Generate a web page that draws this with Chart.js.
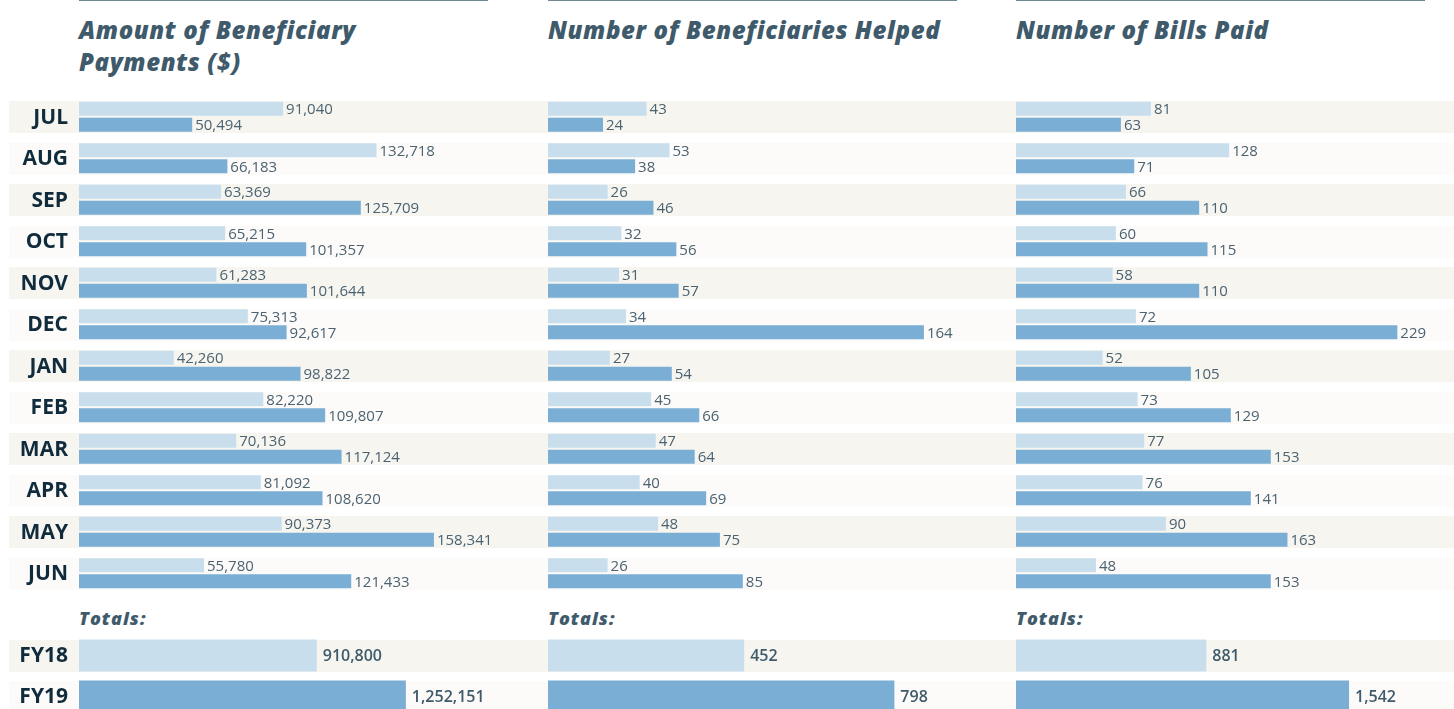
<!DOCTYPE html>
<html>
<head>
<meta charset="utf-8">
<script src="https://cdn.jsdelivr.net/npm/chart.js@4.4.1/dist/chart.umd.min.js"></script>
<style>
  html, body { margin: 0; padding: 0; background: #fff; }
  #page { position: relative; width: 1454px; height: 709px; overflow: hidden; font-family: "Open Sans", sans-serif; }
  .band { position: absolute; left: 9px; right: 0; height: 32px; }
  .rule { position: absolute; top: 0; height: 1px; background: #6e8894; }
  .title { position: absolute; top: 14px; font: italic 800 24px/32px "Open Sans", sans-serif; color: #3f5b6b; letter-spacing: 0.6px; white-space: nowrap; }
  .totals { position: absolute; top: 606px; font: italic 800 18px/24px "Open Sans", sans-serif; color: #3f5b6b; letter-spacing: 1px; }
  canvas { position: absolute; }
</style>
</head>
<body>
<div id="page"></div>
<script>
const months = ['JUL', 'AUG', 'SEP', 'OCT', 'NOV', 'DEC', 'JAN', 'FEB', 'MAR', 'APR', 'MAY', 'JUN'];
const totalLabels = ['FY18', 'FY19'];

const paymentsFY18 = [91040, 132718, 63369, 65215, 61283, 75313, 42260, 82220, 70136, 81092, 90373, 55780];
const paymentsFY19 = [50494, 66183, 125709, 101357, 101644, 92617, 98822, 109807, 117124, 108620, 158341, 121433];
const paymentsTotals = [910800, 1252151];

const helpedFY18 = [43, 53, 26, 32, 31, 34, 27, 45, 47, 40, 48, 26];
const helpedFY19 = [24, 38, 46, 56, 57, 164, 54, 66, 64, 69, 75, 85];
const helpedTotals = [452, 798];

const billsFY18 = [81, 128, 66, 60, 58, 72, 52, 73, 77, 76, 90, 48];
const billsFY19 = [63, 71, 110, 115, 110, 229, 105, 129, 153, 141, 163, 153];
const billsTotals = [881, 1542];

const LIGHT = '#c8deec';
const DARK = '#7aaed4';
const BEIGE = '#f6f5f0';
const PALE = '#fcfbf9';

const page = document.getElementById('page');

// row bands run across all three panels
months.forEach((m, i) => {
  const d = document.createElement('div');
  d.className = 'band';
  d.style.top = (101 + i * 41.5) + 'px';
  d.style.background = i % 2 === 0 ? BEIGE : PALE;
  page.appendChild(d);
});
totalLabels.forEach((t, i) => {
  const d = document.createElement('div');
  d.className = 'band';
  d.style.top = (640 + i * 41) + 'px';
  d.style.background = i % 2 === 0 ? BEIGE : PALE;
  page.appendChild(d);
});

const panels = [
  { x: 79, title: 'Amount of Beneficiary<br>Payments ($)', fy18: paymentsFY18, fy19: paymentsFY19, totals: paymentsTotals, max: 182000, totalMax: 1563000 },
  { x: 548, title: 'Number of Beneficiaries Helped', fy18: helpedFY18, fy19: helpedFY19, totals: helpedTotals, max: 178, totalMax: 940 },
  { x: 1016, title: 'Number of Bills Paid', fy18: billsFY18, fy19: billsFY19, totals: billsTotals, max: 245, totalMax: 1889 }
];

// writes the value just past the end of each bar
const valueLabels = {
  id: 'valueLabels',
  afterDatasetsDraw(chart, args, opts) {
    const ctx = chart.ctx;
    ctx.save();
    ctx.font = opts.font;
    ctx.fillStyle = opts.color;
    ctx.textBaseline = 'middle';
    ctx.textAlign = 'left';
    chart.data.datasets.forEach((ds, di) => {
      chart.getDatasetMeta(di).data.forEach((bar, i) => {
        ctx.fillText(ds.data[i].toLocaleString('en-US'), bar.x + opts.offset, bar.y + 1);
      });
    });
    ctx.restore();
  }
};

// category names to the left of the plot area (first panel only)
const rowNames = {
  id: 'rowNames',
  afterDraw(chart, args, opts) {
    if (!opts.show) return;
    const ctx = chart.ctx;
    const y = chart.scales.y;
    ctx.save();
    ctx.font = '700 21px "Open Sans"';
    ctx.fillStyle = '#0f2b3c';
    ctx.textAlign = 'right';
    ctx.textBaseline = 'middle';
    chart.data.labels.forEach((lab, i) => {
      ctx.fillText(lab, chart.chartArea.left - 11, y.getPixelForTick(i) + 1);
    });
    ctx.restore();
  }
};

function makeCanvas(left, top, width, height) {
  const c = document.createElement('canvas');
  c.style.left = left + 'px';
  c.style.top = top + 'px';
  c.style.width = width + 'px';
  c.style.height = height + 'px';
  c.width = width;
  c.height = height;
  page.appendChild(c);
  return c;
}

panels.forEach((p, idx) => {
  const rule = document.createElement('div');
  rule.className = 'rule';
  rule.style.left = p.x + 'px';
  rule.style.width = '409px';
  page.appendChild(rule);

  const title = document.createElement('div');
  title.className = 'title';
  title.style.left = p.x + 'px';
  title.innerHTML = p.title;
  page.appendChild(title);

  const tot = document.createElement('div');
  tot.className = 'totals';
  tot.style.left = p.x + 'px';
  tot.textContent = 'Totals:';
  page.appendChild(tot);

  const first = idx === 0;
  const left = first ? 0 : p.x;
  const padLeft = first ? p.x : 0;
  const width = padLeft + 408 + 45;

  new Chart(makeCanvas(left, 96, width, 498), {
    type: 'bar',
    data: {
      labels: months,
      datasets: [
        { label: 'FY18', data: p.fy18, backgroundColor: LIGHT },
        { label: 'FY19', data: p.fy19, backgroundColor: DARK }
      ]
    },
    options: {
      indexAxis: 'y',
      responsive: false,
      animation: false,
      categoryPercentage: 0.771,
      barPercentage: 0.87,
      layout: { padding: { top: 0, bottom: 0, left: padLeft, right: 45 } },
      scales: {
        x: { display: false, min: 0, max: p.max },
        y: { display: false }
      },
      plugins: {
        legend: { display: false },
        tooltip: { enabled: false },
        valueLabels: { font: '400 15px "Open Sans"', color: '#4b6271', offset: 3 },
        rowNames: { show: first }
      }
    },
    plugins: [valueLabels, rowNames]
  });

  new Chart(makeCanvas(left, 635, width, 82), {
    type: 'bar',
    data: {
      labels: totalLabels,
      datasets: [
        { label: 'Totals', data: p.totals, backgroundColor: [LIGHT, DARK] }
      ]
    },
    options: {
      indexAxis: 'y',
      responsive: false,
      animation: false,
      categoryPercentage: 1,
      barPercentage: 0.78,
      layout: { padding: { top: 0, bottom: 0, left: padLeft, right: 45 } },
      scales: {
        x: { display: false, min: 0, max: p.totalMax },
        y: { display: false }
      },
      plugins: {
        legend: { display: false },
        tooltip: { enabled: false },
        valueLabels: { font: '600 16px "Open Sans"', color: '#3f5b6b', offset: 6 },
        rowNames: { show: first }
      }
    },
    plugins: [valueLabels, rowNames]
  });
});
</script>
</body>
</html>
